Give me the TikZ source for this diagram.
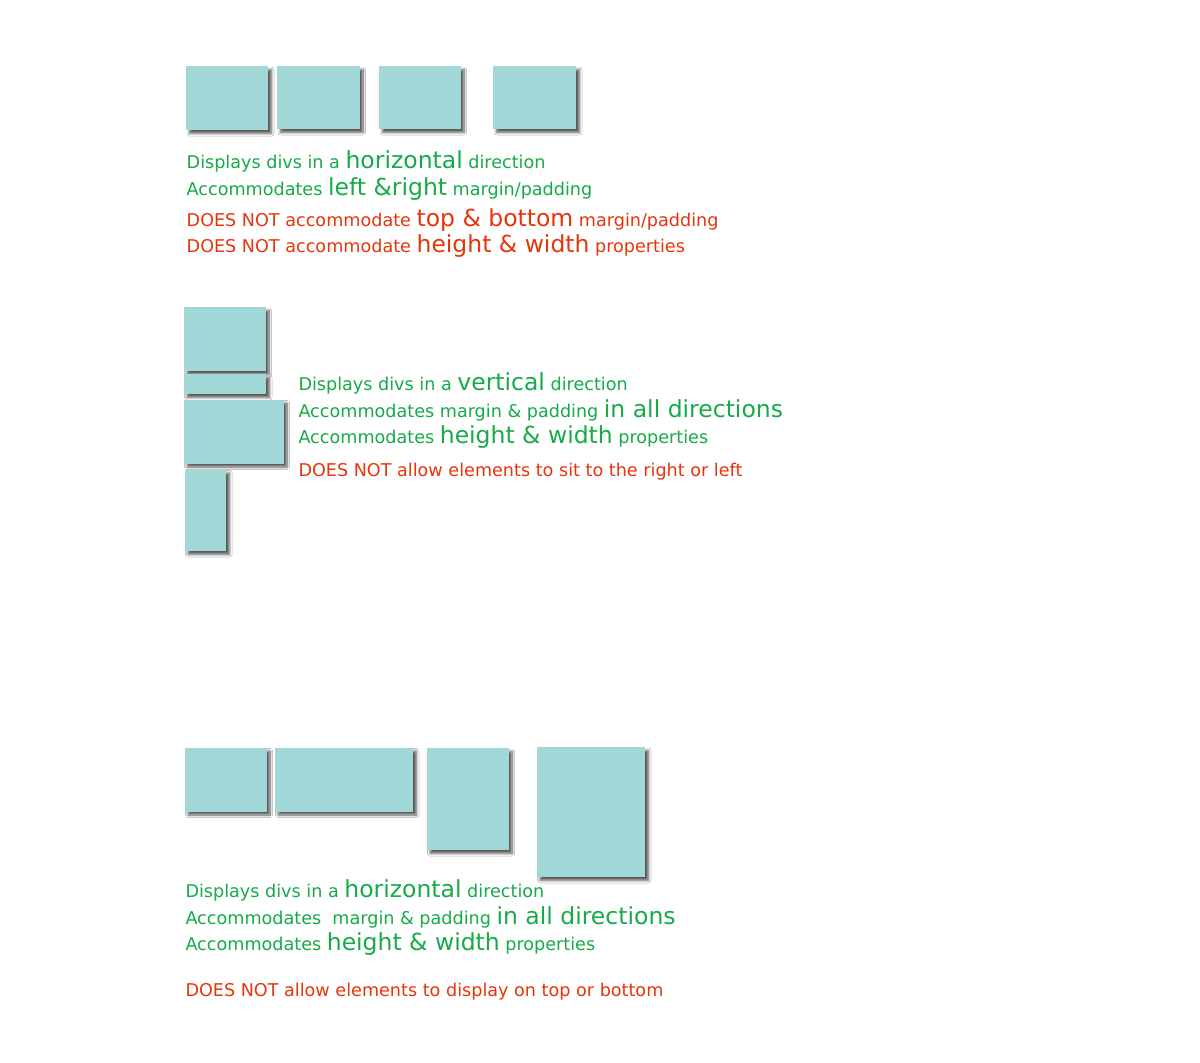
\documentclass[tikz,border=0pt]{standalone}
\usepackage{fontspec}
\setmainfont{DejaVu Sans}
\usetikzlibrary{shadows.blur}
\definecolor{boxc}{RGB}{162,215,216}
\definecolor{gtxt}{RGB}{22,170,72}
\definecolor{rtxt}{RGB}{232,52,10}
\newcommand\bw[1]{{\fontsize{23.5}{27}\selectfont #1}}
\begin{document}
\begin{tikzpicture}[x=1pt,y=-1pt,
  divbox/.style={fill=boxc, draw=none, inner sep=0pt, outer sep=0pt, anchor=north west,
    blur shadow={shadow xshift=3.5pt, shadow yshift=-3.5pt, shadow blur radius=2.5pt, shadow blur steps=10, shadow opacity=65}},
  gline/.style={anchor=base west, inner sep=0pt, text=gtxt, font=\fontsize{17.6}{21}\selectfont},
  rline/.style={gline, text=rtxt}]
\useasboundingbox[fill=white] (0,0) rectangle (1200,1063);
% row 1
\node[divbox, minimum width=82pt, minimum height=64pt] (r1a) at (186,66) {};
\node[divbox, minimum width=82.5pt, minimum height=63pt] (r1b) at (277,66) {};
\node[divbox, minimum width=81.5pt, minimum height=63pt] (r1c) at (379,66) {};
\node[divbox, minimum width=83pt, minimum height=63pt] (r1d) at (493,66) {};
\node[gline] (t11) at (186.5,168.3) {Displays divs in a \bw{horizontal} direction};
\node[gline] (t12) at (186.5,195) {Accommodates \bw{left \&right} margin/padding};
\node[rline] (t13) at (186.5,226.7) {DOES NOT accommodate \bw{top \& bottom} margin/padding};
\node[rline] (t14) at (186.5,252.7) {DOES NOT accommodate \bw{height \& width} properties};
% row 2
\node[divbox, minimum width=82pt, minimum height=64pt] (r2a) at (183.5,307) {};
\node[divbox, minimum width=82.5pt, minimum height=20pt] (r2b) at (183.5,374) {};
\node[divbox, minimum width=100pt, minimum height=64pt] (r2c) at (183.5,399.5) {};
\node[divbox, minimum width=41.5pt, minimum height=81.5pt] (r2d) at (184.5,469.5) {};
\node[gline] (t21) at (298.3,390.7) {Displays divs in a \bw{vertical} direction};
\node[gline] (t22) at (298.3,417.3) {Accommodates margin \& padding \bw{in all directions}};
\node[gline] (t23) at (298.3,443) {Accommodates \bw{height \& width} properties};
\node[rline] (t24) at (298.3,476.3) {DOES NOT allow elements to sit to the right or left};
% row 3
\node[divbox, minimum width=82pt, minimum height=64pt] (r3a) at (184.5,747.5) {};
\node[divbox, minimum width=138.5pt, minimum height=64pt] (r3b) at (274.5,747.5) {};
\node[divbox, minimum width=82pt, minimum height=102pt] (r3c) at (426.5,748) {};
\node[divbox, minimum width=108.5pt, minimum height=130pt] (r3d) at (536.5,747) {};
\node[gline] (t31) at (185.3,897.7) {Displays divs in a \bw{horizontal} direction};
\node[gline] (t32) at (185.3,924.3) {Accommodates\ \ margin \& padding \bw{in all directions}};
\node[gline] (t33) at (185.3,950) {Accommodates \bw{height \& width} properties};
\node[rline] (t34) at (185.3,996.7) {DOES NOT allow elements to display on top or bottom};
\end{tikzpicture}
\end{document}
